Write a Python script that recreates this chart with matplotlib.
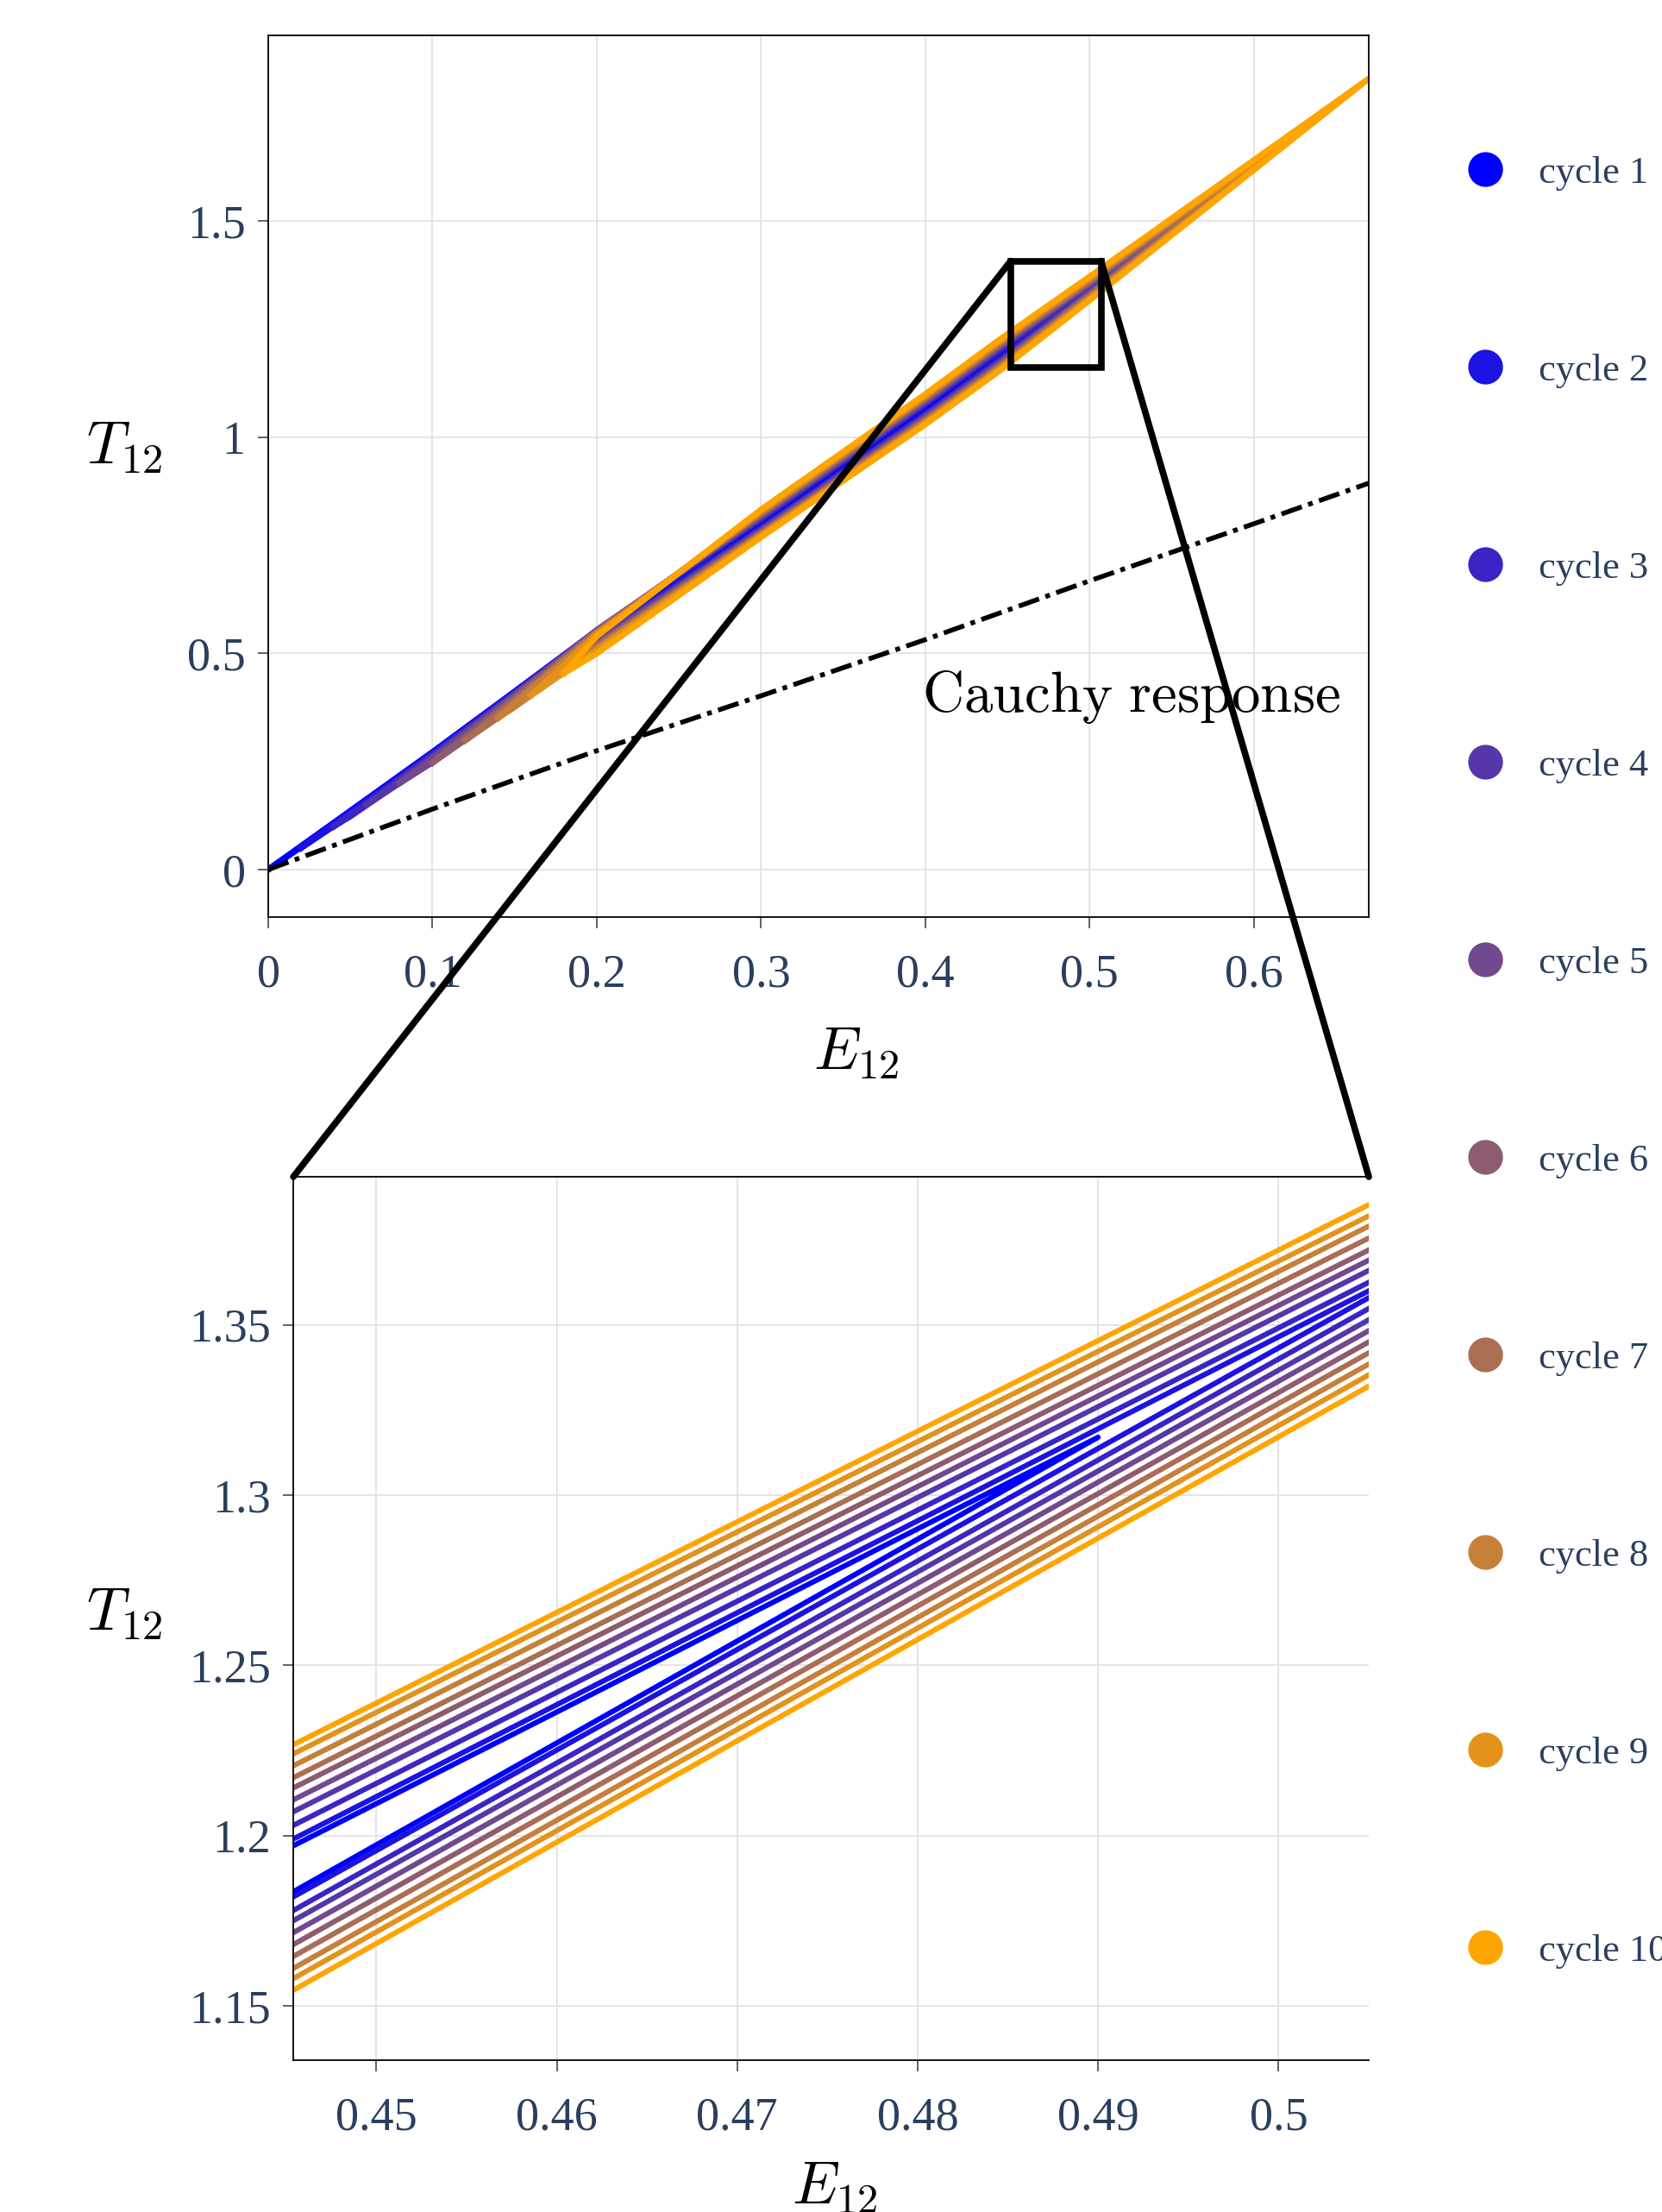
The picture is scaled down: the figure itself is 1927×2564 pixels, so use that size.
import numpy as np
import matplotlib
matplotlib.use("Agg")
import matplotlib.pyplot as plt
from matplotlib.lines import Line2D
from matplotlib.patches import Rectangle, ConnectionPatch

# ---- data ----
cycle_labels = ["cycle %d" % k for k in range(1, 11)]
cycle_colors = ["#0000ff", "#1c12e3", "#3925c6", "#5537aa", "#71498e",
                "#8e5c71", "#aa6e55", "#c68039", "#e3931c", "#ffa500"]

# strain window of each cycle and the stress at its two turning points
min_strain = [0.0, 0.02, 0.04, 0.06, 0.08, 0.10, 0.12, 0.14, 0.16, 0.18]
valley_stress = [0.0, 0.050, 0.100, 0.150, 0.200, 0.247, 0.299, 0.351, 0.403, 0.454]
max_strain = [0.49, 0.51, 0.53, 0.55, 0.57, 0.59, 0.61, 0.63, 0.65, 0.67]
peak_stress = [1.317, 1.373, 1.430, 1.487, 1.545, 1.600, 1.658, 1.715, 1.772, 1.830]

# strain points at which the branches were read
strain_pts = [0.05, 0.1, 0.15, 0.2, 0.3, 0.4, 0.4454, 0.505]

# lower branch (loading) per cycle
loading_T = [
    [0.130, 0.262, 0.400, 0.540, 0.794, 1.058, 1.1835, None],
    [0.126, 0.258, 0.396, 0.536, 0.791, 1.055, 1.1820, 1.3580],
    [0.123, 0.254, 0.392, 0.532, 0.788, 1.052, 1.1780, 1.3548],
    [None, 0.250, 0.388, 0.528, 0.786, 1.049, 1.1750, 1.3515],
    [None, 0.248, 0.384, 0.524, 0.783, 1.046, 1.1715, 1.3483],
    [None, None, 0.380, 0.520, 0.780, 1.042, 1.1680, 1.3450],
    [None, None, 0.378, 0.516, 0.777, 1.039, 1.1645, 1.3418],
    [None, None, 0.376, 0.512, 0.775, 1.036, 1.1610, 1.3385],
    [None, None, None, 0.508, 0.772, 1.033, 1.1580, 1.3353],
    [None, None, None, 0.500, 0.769, 1.030, 1.1546, 1.3320],
]

# upper branch (unloading) per cycle
unloading_T = [
    [0.136, 0.272, 0.412, 0.553, 0.806, 1.072, 1.1970, None],
    [0.132, 0.269, 0.410, 0.553, 0.809, 1.075, 1.1990, 1.3600],
    [0.128, 0.266, 0.408, 0.553, 0.812, 1.078, 1.2030, 1.3625],
    [None, 0.262, 0.406, 0.554, 0.815, 1.081, 1.2070, 1.3660],
    [None, 0.257, 0.403, 0.554, 0.818, 1.084, 1.2105, 1.3690],
    [None, None, 0.398, 0.552, 0.821, 1.088, 1.2140, 1.3720],
    [None, None, 0.392, 0.550, 0.824, 1.091, 1.2170, 1.3755],
    [None, None, 0.385, 0.547, 0.827, 1.094, 1.2205, 1.3790],
    [None, None, None, 0.544, 0.830, 1.097, 1.2240, 1.3820],
    [None, None, None, 0.540, 0.833, 1.100, 1.2267, 1.3853],
]

# Cauchy (elastic) response
cauchy_E = [0.0, 0.1, 0.2, 0.3, 0.4, 0.5, 0.6, 0.67]
cauchy_T = [0.0, 0.140, 0.275, 0.402, 0.532, 0.668, 0.800, 0.894]

# zoomed window
zoom_box_E = [0.452, 0.507]
zoom_box_T = [1.161, 1.408]
zoom_xlim = [0.4454, 0.505]
zoom_ylim = [1.134, 1.3935]

# ---- style ----
plt.rcParams["mathtext.fontset"] = "cm"
tick_color = "#2a3f5f"
grid_color = "#e2e2e2"
serif = ["Liberation Serif", "DejaVu Serif"]


def loop(i):
    """Closed loading/unloading path for cycle i."""
    e_pts, lo, up = [], [], []
    for e, a, b in zip(strain_pts, loading_T[i], unloading_T[i]):
        if min_strain[i] < e < max_strain[i] and a is not None:
            e_pts.append(e)
            lo.append(a)
            up.append(b)
    x = [min_strain[i]] + e_pts + [max_strain[i]] + e_pts[::-1] + [min_strain[i]]
    y = [valley_stress[i]] + lo + [peak_stress[i]] + up[::-1] + [valley_stress[i]]
    return x, y


def style_axes(ax):
    ax.grid(True, color=grid_color, linewidth=1.3)
    ax.set_axisbelow(True)
    for s in ax.spines.values():
        s.set_color("black")
        s.set_linewidth(1.3)
    ax.tick_params(direction="out", length=9, width=1.3, color="#555555",
                   labelcolor=tick_color, labelsize=39)
    ax.tick_params(axis="y", pad=10)
    ax.tick_params(axis="x", pad=21)
    for lab in ax.get_xticklabels() + ax.get_yticklabels():
        lab.set_family(serif)


fig = plt.figure(figsize=(19.27, 25.64), dpi=100)
ax1 = fig.add_axes([0.1614, 0.5854, 0.6622, 0.3986])
ax2 = fig.add_axes([0.1765, 0.0686, 0.6471, 0.3994])

# ---- top panel ----
for i in range(10):
    x, y = loop(i)
    ax1.plot(x, y, color=cycle_colors[i], linewidth=5, solid_joinstyle="round")

ax1.plot(cauchy_E, cauchy_T, color="black", linewidth=4,
         linestyle=(0, (4.5, 1.4, 1.0, 1.4)), zorder=5)
ax1.text(0.398, 0.40, r"$\mathrm{Cauchy\ response}$", fontsize=48,
         va="center", ha="left")

ax1.set_xlim(0, 0.67)
ax1.set_ylim(-0.11, 1.93)
ax1.set_xticks([0, 0.1, 0.2, 0.3, 0.4, 0.5, 0.6])
ax1.set_xticklabels(["0", "0.1", "0.2", "0.3", "0.4", "0.5", "0.6"])
ax1.set_yticks([0, 0.5, 1, 1.5])
ax1.set_yticklabels(["0", "0.5", "1", "1.5"])
style_axes(ax1)
ax1.set_xlabel(r"$E_{12}$", fontsize=50, va="center")
ax1.set_ylabel(r"$T_{12}$", fontsize=50, rotation=0, va="center", ha="center")
ax1.xaxis.set_label_coords(0.5345, -0.153)
ax1.yaxis.set_label_coords(-0.131, 0.534)

ax1.add_patch(Rectangle((zoom_box_E[0], zoom_box_T[0]),
                        zoom_box_E[1] - zoom_box_E[0],
                        zoom_box_T[1] - zoom_box_T[0],
                        fill=False, edgecolor="black", linewidth=5.5, zorder=6))

# ---- zoomed panel ----
for i in range(10):
    x, y = loop(i)
    ax2.plot(x, y, color=cycle_colors[i], linewidth=4.4)

ax2.set_xlim(zoom_xlim)
ax2.set_ylim(zoom_ylim)
ax2.set_xticks([0.45, 0.46, 0.47, 0.48, 0.49, 0.5])
ax2.set_xticklabels(["0.45", "0.46", "0.47", "0.48", "0.49", "0.5"])
ax2.set_yticks([1.15, 1.2, 1.25, 1.3, 1.35])
ax2.set_yticklabels(["1.15", "1.2", "1.25", "1.3", "1.35"])
style_axes(ax2)
ax2.spines["right"].set_visible(False)
ax2.set_xlabel(r"$E_{12}$", fontsize=50, va="center")
ax2.set_ylabel(r"$T_{12}$", fontsize=50, rotation=0, va="center", ha="center")
ax2.xaxis.set_label_coords(0.503, -0.1436)
ax2.yaxis.set_label_coords(-0.157, 0.506)

# lines joining the box to the zoomed panel
for (ex, ax_frac) in [(zoom_box_E[0], 0), (zoom_box_E[1], 1)]:
    con = ConnectionPatch(xyA=(ex, zoom_box_T[1]), coordsA="data", axesA=ax1,
                          xyB=(ax_frac, 1), coordsB="axes fraction", axesB=ax2,
                          color="black", linewidth=5.5, zorder=10)
    fig.add_artist(con)

# ---- legend ----
handles = [Line2D([], [], marker="o", linestyle="none", markersize=28,
                  color=c) for c in cycle_colors]
leg = fig.legend(handles, cycle_labels, loc="upper left",
                 bbox_to_anchor=(0.882, 0.9295), frameon=False,
                 borderpad=0, borderaxespad=0, handlelength=1.0,
                 handletextpad=0.9, labelspacing=4.25,
                 prop={"family": serif, "size": 32})
for t in leg.get_texts():
    t.set_color(tick_color)

fig.savefig("out.png", dpi=100)
